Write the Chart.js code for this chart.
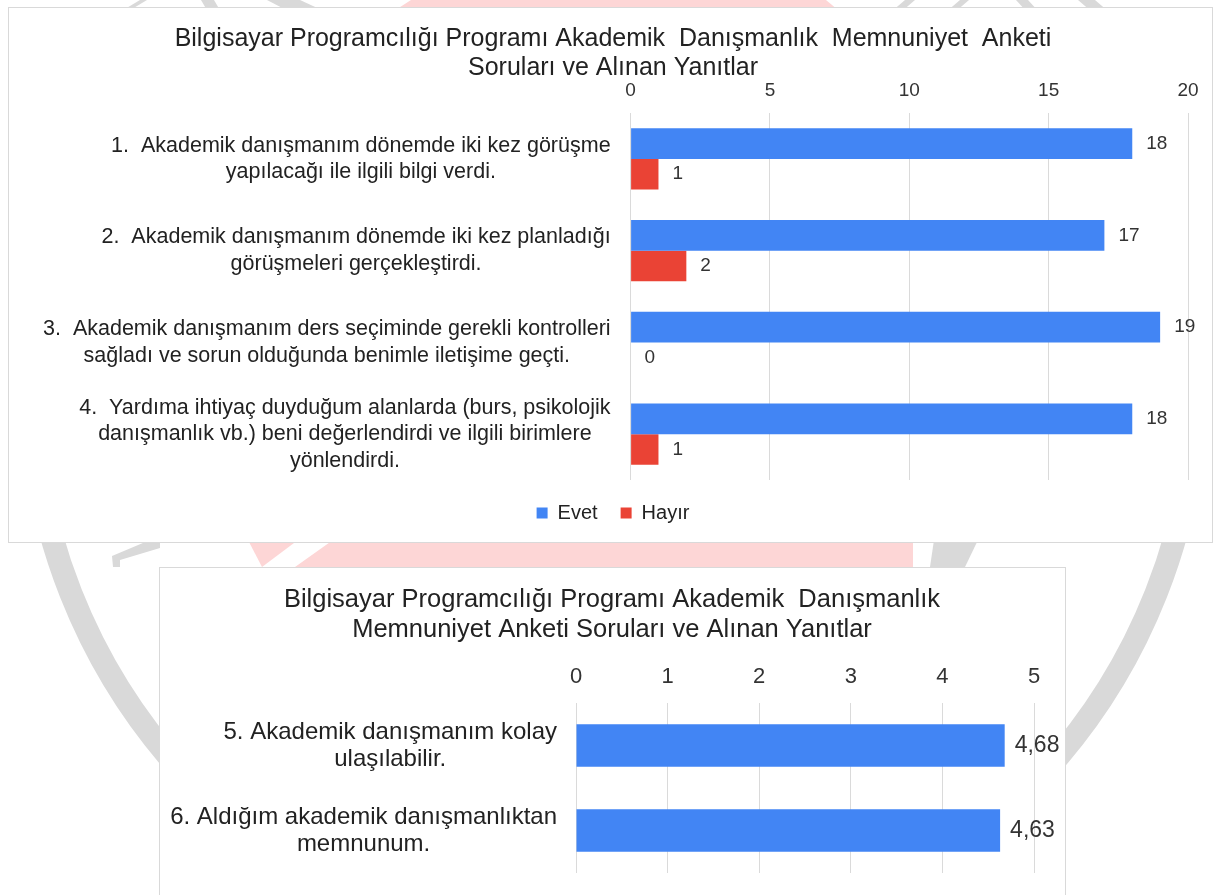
<!DOCTYPE html>
<html lang="tr">
<head>
<meta charset="utf-8">
<title>Akademik Danışmanlık Memnuniyet Anketi</title>
<script src="https://cdn.jsdelivr.net/npm/chart.js@4.4.1/dist/chart.umd.min.js"></script>
<style>
  html, body { margin: 0; padding: 0; background: #fff; overflow: hidden; }
  body { width: 1215px; height: 895px; position: relative; }
  #watermark { position: absolute; left: 0; top: 0; }
  .box { position: absolute; background: #fff; border: 1px solid #d9d9d9; }
  .box canvas { display: block; }
  #box1 { left: 8px; top: 7px; }
  #box2 { left: 159px; top: 567px; }
</style>
</head>
<body>
<svg id="watermark" width="1215" height="895">
  <defs>
    <clipPath id="lower"><rect x="0" y="530" width="1215" height="400"/></clipPath>
  </defs>
  <circle cx="613.5" cy="378.8" r="583.5" fill="none" stroke="#d9d9d9" stroke-width="23" clip-path="url(#lower)"/>
  <!-- pembe parcalar -->
  <polygon points="411,0 826,0 850,20 380,20" fill="#fdd6d6"/>
  <polygon points="248,540 298,540 262,567" fill="#fdd6d6"/>
  <polygon points="333,540 913,540 913,567 295,567" fill="#fdd6d6"/>
  <!-- gri parcalar -->
  <polygon points="934,540 978,540 965,567 930,567" fill="#d9d9d9"/>
  <polygon points="113,567 120,567 120,560 160,548 160,540 150,540 112,556" fill="#d9d9d9"/>
  <polygon points="140,0 147,0 127,12 120,12" fill="#d9d9d9"/>
  <polygon points="201,0 214,0 221,12 208,12" fill="#d9d9d9"/>
  <polygon points="267,0 300,0 326,12 290,12" fill="#d9d9d9"/>
  <polygon points="905,0 915,0 901,12 891,12" fill="#d9d9d9"/>
  <polygon points="960,0 969,0 955,12 946,12" fill="#d9d9d9"/>
  <polygon points="1016,0 1028,0 1039,12 1027,12" fill="#d9d9d9"/>
  <polygon points="1078,0 1095,0 1109,12 1092,12" fill="#d9d9d9"/>
</svg>

<div class="box" id="box1"><canvas id="anketChart" width="1203" height="534"></canvas></div>
<div class="box" id="box2"><canvas id="puanChart" width="905" height="338"></canvas></div>

<script>
const fontFamily = "'Liberation Sans', Arial, sans-serif";

// 1. grafik: Evet / Hayir sayilari
const title1 = ['Bilgisayar Programcılığı Programı Akademik  Danışmanlık  Memnuniyet  Anketi', 'Soruları ve Alınan Yanıtlar'];
const questions1 = [
    ['1.  Akademik danışmanım dönemde iki kez görüşme', 'yapılacağı ile ilgili bilgi verdi.'],
    ['2.  Akademik danışmanım dönemde iki kez planladığı', 'görüşmeleri gerçekleştirdi.'],
    ['3.  Akademik danışmanım ders seçiminde gerekli kontrolleri', 'sağladı ve sorun olduğunda benimle iletişime geçti.'],
    ['4.  Yardıma ihtiyaç duyduğum alanlarda (burs, psikolojik', 'danışmanlık vb.) beni değerlendirdi ve ilgili birimlere', 'yönlendirdi.']
];
const evet = [18, 17, 19, 18];
const hayir = [1, 2, 0, 1];
const ticks1 = [0, 5, 10, 15, 20];

// 2. grafik: ortalama puanlar
const title2 = ['Bilgisayar Programcılığı Programı Akademik  Danışmanlık', 'Memnuniyet Anketi Soruları ve Alınan Yanıtlar'];
const questions2 = [
    ['5. Akademik danışmanım kolay', 'ulaşılabilir.'],
    ['6. Aldığım akademik danışmanlıktan', 'memnunum.']
];
const puan = [4.68, 4.63];
const ticks2 = [0, 1, 2, 3, 4, 5];

Chart.defaults.font.family = fontFamily;
Chart.defaults.color = '#333';

// soru metinleri: blok saga yasli, satirlar ortali
const blockLabels = {
    id: 'blockLabels',
    afterDraw(chart, args, opts) {
        const ctx = chart.ctx;
        const yScale = chart.scales.y;
        ctx.save();
        ctx.font = opts.size + 'px ' + fontFamily;
        ctx.fillStyle = opts.color;
        ctx.textAlign = 'center';
        ctx.textBaseline = 'middle';
        chart.data.labels.forEach((lines, i) => {
            const yc = yScale.getPixelForTick(i);
            const w = Math.max(...lines.map(l => ctx.measureText(l).width));
            const xc = chart.chartArea.left - opts.gap - w / 2;
            lines.forEach((line, j) => {
                ctx.fillText(line, xc, yc + (j - (lines.length - 1) / 2) * opts.lineHeight);
            });
        });
        ctx.restore();
    }
};

// cubuk sonundaki degerler
const valueLabels = {
    id: 'valueLabels',
    afterDatasetsDraw(chart, args, opts) {
        const ctx = chart.ctx;
        ctx.save();
        ctx.font = opts.size + 'px ' + fontFamily;
        ctx.fillStyle = opts.color;
        ctx.textAlign = 'left';
        ctx.textBaseline = 'middle';
        chart.data.datasets.forEach((ds, i) => {
            chart.getDatasetMeta(i).data.forEach((bar, j) => {
                const v = ds.data[j];
                const txt = opts.comma ? v.toFixed(2).replace('.', ',') : String(v);
                ctx.fillText(txt, bar.x + opts.offset, bar.y);
            });
        });
        ctx.restore();
    }
};

const anketConfig = {
    type: 'bar',
    data: {
        labels: questions1,
        datasets: [{
            label: 'Evet',
            data: evet,
            backgroundColor: '#4285f4',
            borderWidth: 0,
            barPercentage: 1,
            categoryPercentage: 0.665
        }, {
            label: 'Hayır',
            data: hayir,
            backgroundColor: '#ea4335',
            borderWidth: 0,
            barPercentage: 1,
            categoryPercentage: 0.665
        }]
    },
    options: {
        indexAxis: 'y',
        responsive: false,
        animation: false,
        layout: { padding: { left: 29, right: 24, top: 0, bottom: 9 } },
        scales: {
            x: {
                position: 'top',
                min: 0,
                max: 20,
                afterBuildTicks: s => { s.ticks = ticks1.map(v => ({ value: v })); },
                ticks: { font: { size: 19, lineHeight: 1 }, color: '#333', padding: 12.7 },
                grid: { color: '#dadada', drawTicks: false },
                border: { display: false }
            },
            y: {
                ticks: { display: false },
                grid: { display: false },
                border: { display: false },
                afterFit: s => { s.width = 592.6; }
            }
        },
        plugins: {
            title: {
                display: true,
                text: title1,
                color: '#222',
                font: { size: 25, weight: 'normal', lineHeight: 1.16 },
                // alt dolgu eksi: eksen yazilari basliga yakin dursun
                padding: { top: 17, bottom: -14.4 }
            },
            legend: {
                position: 'bottom',
                labels: {
                    font: { size: 20 },
                    color: '#222',
                    boxWidth: 11,
                    boxHeight: 11,
                    padding: 23
                }
            },
            tooltip: { enabled: false },
            blockLabels: { size: 21.5, lineHeight: 26.5, gap: 20, color: '#222' },
            valueLabels: { size: 19, offset: 14, color: '#333', comma: false }
        }
    },
    plugins: [blockLabels, valueLabels]
};

const puanConfig = {
    type: 'bar',
    data: {
        labels: questions2,
        datasets: [{
            label: 'Puan',
            data: puan,
            backgroundColor: '#4285f4',
            borderWidth: 0,
            barPercentage: 1,
            categoryPercentage: 0.5
        }]
    },
    options: {
        indexAxis: 'y',
        responsive: false,
        animation: false,
        layout: { padding: { left: 30, right: 31, top: 0, bottom: 33 } },
        scales: {
            x: {
                position: 'top',
                min: 0,
                max: 5,
                afterBuildTicks: s => { s.ticks = ticks2.map(v => ({ value: v })); },
                ticks: { font: { size: 22, lineHeight: 1 }, color: '#333', padding: 15.3 },
                grid: { color: '#dadada', drawTicks: false },
                border: { display: false }
            },
            y: {
                ticks: { display: false },
                grid: { display: false },
                border: { display: false },
                afterFit: s => { s.width = 386; }
            }
        },
        plugins: {
            title: {
                display: true,
                text: title2,
                color: '#222',
                font: { size: 25.5, weight: 'normal', lineHeight: 30 / 25.5 },
                padding: { top: 17, bottom: 5.4 }
            },
            legend: { display: false },
            tooltip: { enabled: false },
            blockLabels: { size: 24, lineHeight: 27, gap: 19, color: '#222' },
            valueLabels: { size: 23, offset: 10, color: '#333', comma: true }
        }
    },
    plugins: [blockLabels, valueLabels]
};

const anketChart = new Chart(document.getElementById('anketChart'), anketConfig);
const puanChart = new Chart(document.getElementById('puanChart'), puanConfig);
</script>
</body>
</html>
